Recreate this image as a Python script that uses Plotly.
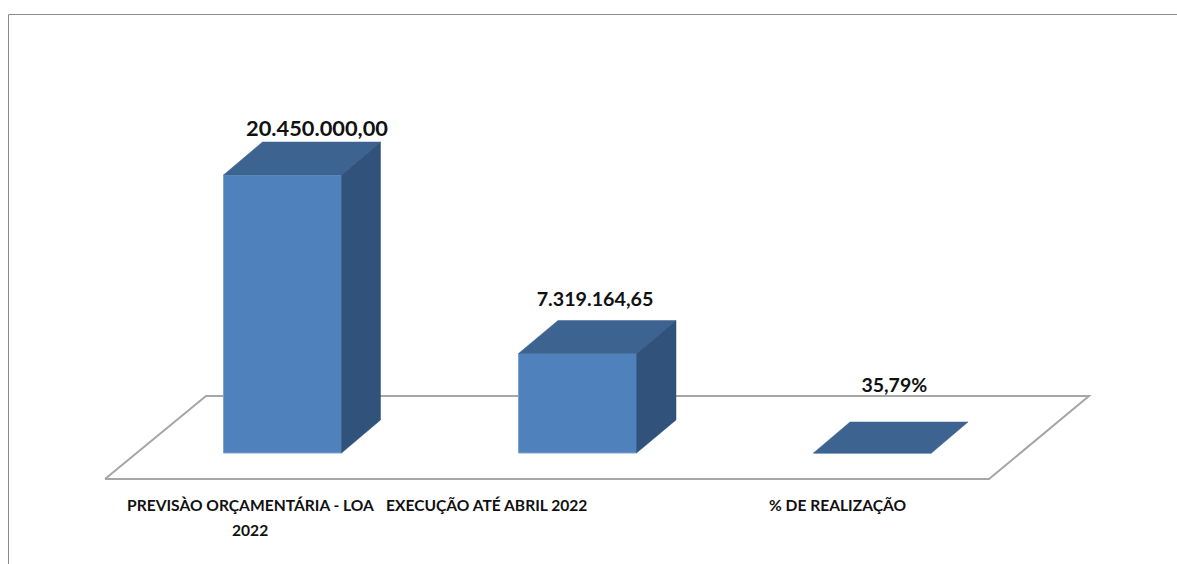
import plotly.graph_objects as go

# ---- data ----
categories = ["PREVISÀO ORÇAMENTÁRIA - LOA<br>2022", "EXECUÇÃO ATÉ ABRIL 2022", "% DE REALIZAÇÃO"]
values = [20450000.00, 7319164.65, 0.3579]
value_labels = ["20.450.000,00", "7.319.164,65", "35,79%"]

# ---- layout constants ----
W, H = 1177, 564
X0_PX, X_STEP_PX = 282.5, 295.0      # pixel of first category, pixels per category
BASE_PX = 453.0
Y_PX_PER_UNIT = 278.0 / 20450000.0
BAR_W = 118.0 / X_STEP_PX
DEPTH_X_PX = [39.0, 39.5, 36.5]
DEPTH_Y_PX = [33.0, 33.0, 31.0]
LABEL_LINE_PX = 24.5

def xu(px):
    return (px - X0_PX) / X_STEP_PX

def yu(px):
    return (BASE_PX - px) / Y_PX_PER_UNIT

FRONT, TOP, SIDE = "#4F81BD", "#3D6390", "#30527B"
LINE = "#A6A6A6"
FONT = "Lato"

positions = list(range(len(categories)))
fig = go.Figure()

# front faces
fig.add_trace(go.Bar(x=positions, y=values, width=BAR_W,
                     marker=dict(color=FRONT, line=dict(color="#7FA3D0", width=1)),
                     hoverinfo="skip", showlegend=False))

# top and side faces derived from the same values
for p, v, dxp, dyp in zip(positions, values, DEPTH_X_PX, DEPTH_Y_PX):
    dx = dxp / X_STEP_PX
    dy = dyp / Y_PX_PER_UNIT
    l, r = p - BAR_W / 2, p + BAR_W / 2
    fig.add_trace(go.Scatter(
        x=[l, r, r + dx, l + dx, l], y=[v, v, v + dy, v + dy, v],
        mode="lines", fill="toself", fillcolor=TOP, line=dict(color=TOP, width=0.5),
        hoverinfo="skip", showlegend=False))
    if v > 1:
        fig.add_trace(go.Scatter(
            x=[r, r + dx, r + dx, r, r], y=[0, dy, v + dy, v, 0],
            mode="lines", fill="toself", fillcolor=SIDE, line=dict(color=SIDE, width=0.5),
            hoverinfo="skip", showlegend=False))

# data labels
label_dx_px = [34.5, 17.5, 21.8]
label_dy_px = [44.0, 52.0, 66.0]
label_sizes = [21.8, 19.7, 19.5]
for p, v, t, dx, dy, s in zip(positions, values, value_labels, label_dx_px, label_dy_px, label_sizes):
    fig.add_trace(go.Scatter(
        x=[p + dx / X_STEP_PX], y=[v + dy / Y_PX_PER_UNIT], text=[t], mode="text",
        textposition="middle center",
        textfont=dict(family=FONT, size=s, color="#111111", weight="bold"),
        hoverinfo="skip", showlegend=False))

# category labels (each line placed separately to keep the original line spacing)
cat_dx_px = [-32.3, -91.5, -34.8]
annotations = []
for p, c, dx in zip(positions, categories, cat_dx_px):
    for i, part in enumerate(c.split("<br>")):
        annotations.append(dict(
            x=p + dx / X_STEP_PX, y=yu(494 + i * LABEL_LINE_PX), xref="x", yref="y",
            text=part, showarrow=False, xanchor="center", yanchor="top", align="center",
            font=dict(family=FONT, size=15.6, color="#111111", weight="bold")))

# floor (behind the bars) and outer frame
floor_px = [(105, 479), (989, 479), (1089, 396), (206, 396), (105, 479)]
floor_path = "M " + " L ".join(f"{xu(a)} {yu(b)}" for a, b in floor_px)
shapes = [
    dict(type="path", path=floor_path, xref="x", yref="y", layer="below",
         line=dict(color=LINE, width=2)),
    dict(type="line", xref="paper", yref="paper", x0=8.5 / W, x1=8.5 / W, y0=0, y1=1 - 14.5 / H,
         line=dict(color="#8C8C8C", width=1)),
    dict(type="line", xref="paper", yref="paper", x0=8.5 / W, x1=1, y0=1 - 14.5 / H, y1=1 - 14.5 / H,
         line=dict(color="#8C8C8C", width=1)),
]

fig.update_layout(
    width=W, height=H, margin=dict(l=0, r=0, t=0, b=0),
    paper_bgcolor="white", plot_bgcolor="white",
    xaxis=dict(range=[xu(0), xu(W)], visible=False, fixedrange=True),
    yaxis=dict(range=[yu(H), yu(0)], visible=False, fixedrange=True),
    annotations=annotations, shapes=shapes, showlegend=False,
)

fig.write_html("out.html", config=dict(displayModeBar=False),
               post_script="document.body.style.margin='0';")
